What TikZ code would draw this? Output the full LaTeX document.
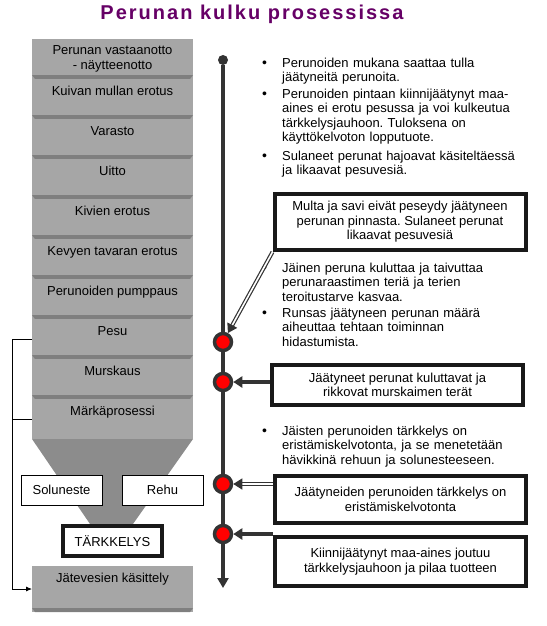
\documentclass[tikz,border=0pt]{standalone}
\usepackage{fontspec}
\setmainfont{Liberation Sans}
\usetikzlibrary{arrows.meta,positioning}

\definecolor{ink}{HTML}{333333}
\definecolor{stagegray}{HTML}{A6A6A6}
\definecolor{stripegray}{HTML}{7F7F7F}
\definecolor{funnelgray}{HTML}{8C8C8C}
\definecolor{titlepurple}{HTML}{660066}
\frenchspacing

\begin{document}
\begin{tikzpicture}[
    x=1pt, y=-1pt,
    every node/.style={font=\fontsize{13}{14.6}\selectfont},
    stagebase/.style={rectangle, fill=stagegray, minimum width=161pt, minimum height=40pt, inner sep=0pt, outer sep=0pt, align=center},
    stripe/.style={path picture={\fill[stripegray] ([yshift=4pt]path picture bounding box.south west) -- ([yshift=4pt]path picture bounding box.south east) -- ([xshift=-3pt]path picture bounding box.south east) -- ([xshift=3pt]path picture bounding box.south west) -- cycle;}},
    stage/.style={stagebase, stripe, text height=16pt, text depth=24pt},
    side/.style={rectangle, draw=black, line width=0.8pt, fill=white, minimum width=81pt, minimum height=30pt, inner sep=0pt},
    product/.style={rectangle, draw=black!90, line width=3.5pt, fill=white, minimum width=99pt, minimum height=30pt, inner sep=0pt},
    note/.style={rectangle, draw=black!90, line width=4pt, fill=white, align=center, minimum width=251pt, inner sep=0pt},
    txt/.style={anchor=base west, text width=262pt, align=left, inner sep=0pt},
    bul/.style={anchor=base, inner sep=0pt, font=\fontsize{14}{14}\selectfont},
    pin/.style={circle, fill=ink, minimum size=10pt, inner sep=0pt},
    hit/.style={circle, fill=red, draw=ink, line width=3.5pt, minimum size=17pt, inner sep=0pt},
    axis/.style={draw=ink, line width=4pt, -{Triangle[length=10pt,width=11pt]}},
    arrow/.style={draw=ink, line width=3.5pt, -{Triangle[length=9pt,width=11pt]}},
    dblarrow/.style={draw=ink, line width=1.2pt, double=white, double distance=1.6pt, -{Triangle[length=9pt,width=11pt]}},
    feed/.style={draw=black, line width=0.8pt}
]
\useasboundingbox (0,0) rectangle (546,626);

% title
\node[font=\fontsize{20}{24}\selectfont\bfseries\addfontfeature{LetterSpace=10}, text=titlepurple] (title) at (252,14) {Perunan kulku prosessissa};

% process column
\node[stagebase, stripe] (recv) at (112.5,59) {Perunan vastaanotto\\- näytteenotto};
\node[stage, below=0pt of recv] (dryso) {Kuivan mullan erotus};
\node[stage, below=0pt of dryso] (store) {Varasto};
\node[stage, below=0pt of store] (flume) {Uitto};
\node[stage, below=0pt of flume] (stones) {Kivien erotus};
\node[stage, below=0pt of stones] (light) {Kevyen tavaran erotus};
\node[stage, below=0pt of light] (pump) {Perunoiden pumppaus};
\node[stage, below=0pt of pump] (wash) {Pesu};
\node[stage, below=0pt of wash] (crush) {Murskaus};
\node[stagebase, text height=16pt, text depth=24pt, below=0pt of crush] (wet) {Märkäprosessi};
\fill[funnelgray] (wet.south west) -- (wet.south east) -- (133,524) -- (90,524) -- cycle;
\node[side] (juice) at (61.5,490) {Soluneste};
\node[side] (fodder) at (162.5,490) {Rehu};
\node[product] (starch) at (112.5,541) {TÄRKKELYS};
\node[stage, minimum height=46pt, text depth=30pt] (waste) at (112.5,589) {Jätevesien käsittely};

% waste water line
\coordinate (rail) at (12,0);
\draw[feed, -{Latex[length=6pt,width=5pt]}] (wash.west) -- (wash.west -| rail) |- (waste.west);
\draw[feed] (wet.west) -- (wet.west -| rail);

% time line
\node[pin] (start) at (223,60) {};
\coordinate (stop) at (223,588);
\draw[axis] (start) -- (stop);
\node[hit] (hit1) at (223,342) {};
\node[hit] (hit2) at (223,382) {};
\node[hit] (hit3) at (223,484) {};
\node[hit] (hit4) at (223,534) {};

% notes
\node[bul] (b1) at (264.5,67) {\textbullet};
\node[txt] (t1) at (282,67) {Perunoiden mukana saattaa tulla\\jäätyneitä perunoita.};
\node[bul] (b2) at (264.5,98) {\textbullet};
\node[txt] (t2) at (282,98) {Perunoiden pintaan kiinnijäätynyt maa-\\aines ei erotu pesussa ja voi kulkeutua\\tärkkelysjauhoon. Tuloksena on\\käyttökelvoton lopputuote.};
\node[bul] (b3) at (264.5,160) {\textbullet};
\node[txt] (t3) at (282,160) {Sulaneet perunat hajoavat käsiteltäessä\\ja likaavat pesuvesiä.};

\node[note, minimum height=56pt] (noteA) at (400,222) {Multa ja savi eivät peseydy jäätyneen\\perunan pinnasta. Sulaneet perunat\\likaavat pesuvesiä};

\node[bul] (b4) at (264.5,272) {\textbullet};
\node[txt] (t4) at (282,272) {Jäinen peruna kuluttaa ja taivuttaa\\perunaraastimen teriä ja terien\\teroitustarve kasvaa.};
\node[bul] (b5) at (264.5,317) {\textbullet};
\node[txt] (t5) at (282,317) {Runsas jäätyneen perunan määrä\\aiheuttaa tehtaan toiminnan\\hidastumista.};

\node[note, minimum height=40pt] (noteB) at (397.5,385) {Jäätyneet perunat kuluttavat ja\\rikkovat murskaimen terät};

\node[bul] (b6) at (264.5,435) {\textbullet};
\node[txt] (t6) at (282,435) {Jäisten perunoiden tärkkelys on\\eristämiskelvotonta, ja se menetetään\\hävikkinä rehuun ja solunesteeseen.};

\node[note, minimum height=47pt] (noteC) at (400.5,499.5) {Jäätyneiden perunoiden tärkkelys on\\eristämiskelvotonta};
\node[note, minimum height=49pt] (noteD) at (400.5,561.5) {Kiinnijäätynyt maa-aines joutuu\\tärkkelysjauhoon ja pilaa tuotteen};

% effects
\draw[dblarrow] (noteA.south west) -- (hit1);
\draw[arrow] (noteB.west |- hit2) -- (hit2);
\draw[dblarrow] (noteC.west |- hit3) -- (hit3);
\draw[arrow] (noteD.west |- hit4) -- (hit4);
\end{tikzpicture}
\end{document}
